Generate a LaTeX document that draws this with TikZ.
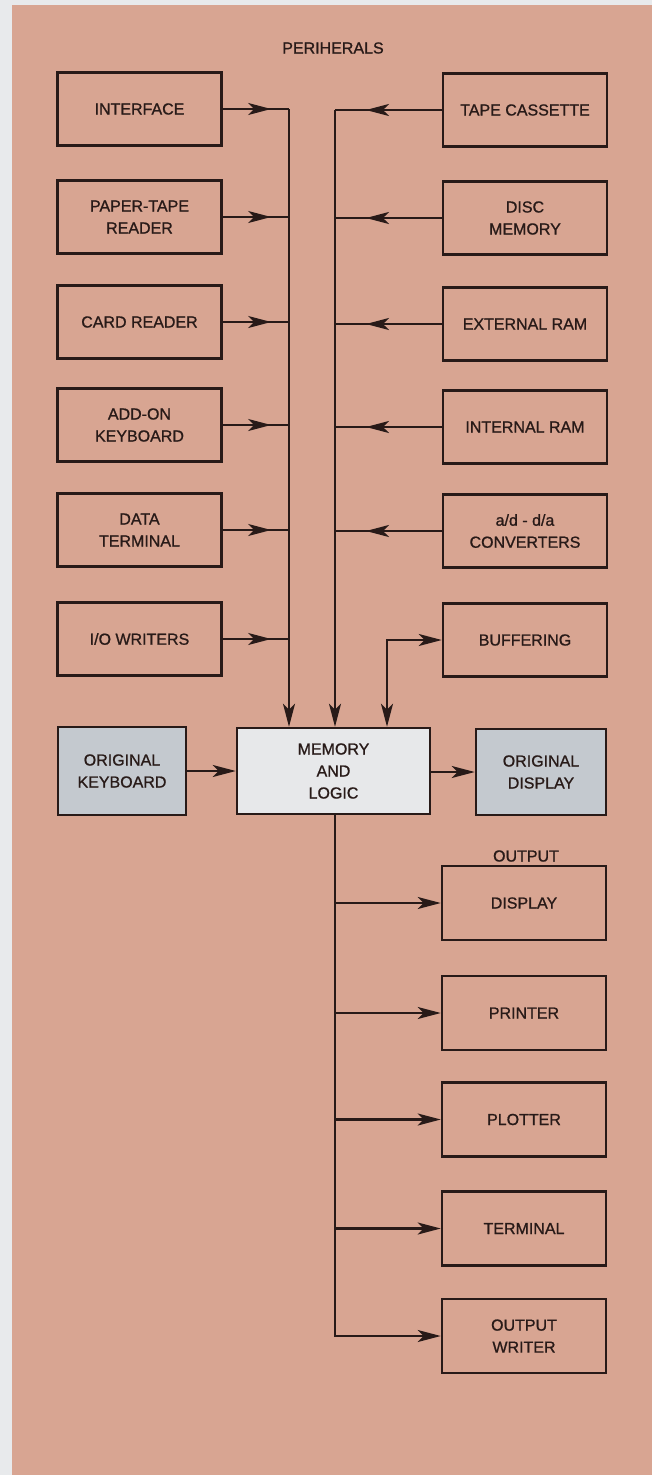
\documentclass[tikz,border=0pt]{standalone}
\usepackage{fontspec}
\setmainfont{Liberation Sans}[FakeBold=1.0]
\usetikzlibrary{arrows.meta,decorations.markings}
\definecolor{paper}{RGB}{216,165,146}
\definecolor{edgecol}{RGB}{232,234,236}
\definecolor{ink}{RGB}{40,26,24}
\definecolor{greybox}{RGB}{196,201,207}
\definecolor{membox}{RGB}{231,232,234}
\newcommand{\lbl}{\fontsize{16}{22}\selectfont}
\tikzset{
  >={Stealth[length=23pt,width=12pt,inset=6pt]},
  box/.style={draw=ink,line width=2.5pt,inner sep=0pt,align=center,font=\lbl,text=ink},
  sidebox/.style={box,minimum width=164pt,minimum height=73pt},
  outbox/.style={box,minimum width=164pt,minimum height=74pt},
  link/.style={draw=ink,line width=2.3pt},
  midarr/.style={link,postaction={decorate},decoration={markings,mark=at position #1 with {\arrow[ink]{>}}}},
  endarr/.style={link,->},
  caption/.style={font=\lbl,text=ink,inner sep=0pt}
}
\begin{document}
\begin{tikzpicture}[x=1pt,y=-1pt]
\fill[edgecol] (0,0) rectangle (652,1475);
\fill[paper] (12,5) rectangle (652,1475);
\useasboundingbox (0,0) rectangle (652,1475);

\node[caption] (periph) at (333,48) {PERIHERALS};
\node[caption] (outlbl) at (526,856) {OUTPUT};

% left column
\node[sidebox] (interface) at (139.5,109) {INTERFACE};
\node[sidebox] (papertape) at (139.5,217) {PAPER-TAPE\\READER};
\node[sidebox] (cardreader) at (139.5,322) {CARD READER};
\node[sidebox] (addon) at (139.5,425) {ADD-ON\\KEYBOARD};
\node[sidebox] (dataterm) at (139.5,530) {DATA\\TERMINAL};
\node[sidebox] (iowriters) at (139.5,639) {I/O WRITERS};

% right column
\node[sidebox] (tape) at (525,110) {TAPE CASSETTE};
\node[sidebox] (disc) at (525,218) {DISC\\MEMORY};
\node[sidebox] (extram) at (525,324) {EXTERNAL RAM};
\node[sidebox] (intram) at (525,427) {INTERNAL RAM};
\node[sidebox] (conv) at (525,531) {a/d - d/a\\CONVERTERS};
\node[sidebox] (buffering) at (525,640) {BUFFERING};

% centre row
\node[box,fill=greybox,minimum width=128pt,minimum height=88pt] (keyboard) at (122,771) {ORIGINAL\\KEYBOARD};
\node[box,fill=membox,minimum width=193pt,minimum height=86pt] (memory) at (333.5,771) {MEMORY\\AND\\LOGIC};
\node[box,fill=greybox,minimum width=130pt,minimum height=86pt] (display) at (541,772) {ORIGINAL\\DISPLAY};

% output column
\node[outbox] (odisplay) at (524,903) {DISPLAY};
\node[outbox] (printer) at (524,1013) {PRINTER};
\node[outbox] (plotter) at (524,1119.5) {PLOTTER};
\node[outbox] (terminal) at (524,1228.5) {TERMINAL};
\node[outbox] (outwriter) at (524,1336) {OUTPUT\\WRITER};

% bus coordinates
\coordinate (lbus) at (289,109);
\coordinate (rbus) at (335,110);
\coordinate (bufc) at (387,640);
\coordinate (obus) at (335,1336);

% left inputs
\draw[midarr=0.73] (interface.east) -- (lbus);
\draw[endarr] (lbus) -- (lbus |- memory.north);
\draw[midarr=0.73] (papertape.east) -- (papertape.east -| lbus);
\draw[midarr=0.73] (cardreader.east) -- (cardreader.east -| lbus);
\draw[midarr=0.73] (addon.east) -- (addon.east -| lbus);
\draw[midarr=0.73] (dataterm.east) -- (dataterm.east -| lbus);
\draw[midarr=0.73] (iowriters.east) -- (iowriters.east -| lbus);

% right inputs
\draw[midarr=0.71] (tape.west) -- (rbus);
\draw[endarr] (rbus) -- (rbus |- memory.north);
\draw[midarr=0.71] (disc.west) -- (disc.west -| rbus);
\draw[midarr=0.71] (extram.west) -- (extram.west -| rbus);
\draw[midarr=0.71] (intram.west) -- (intram.west -| rbus);
\draw[midarr=0.71] (conv.west) -- (conv.west -| rbus);

% buffering, two-way
\draw[link,<->] (buffering.west) -- (bufc) -- (bufc |- memory.north);

% centre row
\draw[endarr] (keyboard.east) -- (keyboard.east |- memory.west) -- (memory.west);
\draw[endarr] (memory.east |- display.west) -- (display.west);

% outputs
\draw[endarr] (memory.south -| obus) -- (obus) -- (outwriter.west);
\draw[endarr] (odisplay.west -| obus) -- (odisplay.west);
\draw[endarr] (printer.west -| obus) -- (printer.west);
\draw[endarr] (plotter.west -| obus) -- (plotter.west);
\draw[endarr] (terminal.west -| obus) -- (terminal.west);
\end{tikzpicture}
\end{document}
